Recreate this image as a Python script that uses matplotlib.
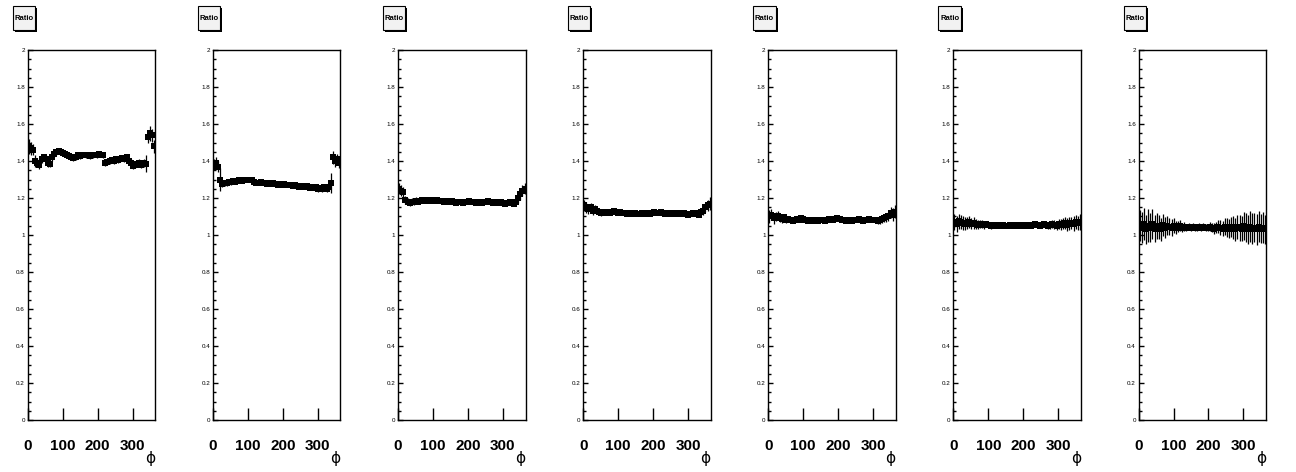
import numpy as np
import matplotlib
matplotlib.use('Agg')
import matplotlib.pyplot as plt
from matplotlib.patches import Rectangle
from matplotlib.ticker import MultipleLocator

plt.rcParams['font.family'] = ['Liberation Sans', 'DejaVu Sans']

# phi binning (60 bins)
phi_edges = np.linspace(0, 365, 61)
phi = 0.5 * (phi_edges[1:] + phi_edges[:-1])
half_bin = 0.5 * (phi_edges[1] - phi_edges[0])

ratio_1 = [1.48, 1.47, 1.46, 1.40, 1.39, 1.38, 1.41, 1.42, 1.41, 1.39,
           1.385, 1.42, 1.44, 1.45, 1.455, 1.45, 1.445, 1.44, 1.43, 1.425,
           1.42, 1.415, 1.42, 1.43, 1.425, 1.43, 1.435, 1.43, 1.43, 1.425,
           1.43, 1.435, 1.43, 1.44, 1.435, 1.43, 1.39, 1.395, 1.40, 1.405,
           1.40, 1.41, 1.405, 1.41, 1.415, 1.41, 1.42, 1.40, 1.39, 1.375,
           1.38, 1.385, 1.39, 1.38, 1.39, 1.385, 1.53, 1.55, 1.54, 1.48]
err_1 = [0.04, 0.035, 0.03, 0.03, 0.025, 0.025, 0.02, 0.02, 0.02, 0.02,
         0.02, 0.02, 0.02, 0.015, 0.015, 0.015, 0.015, 0.015, 0.015, 0.015,
         0.015, 0.015, 0.015, 0.015, 0.015, 0.015, 0.015, 0.015, 0.015, 0.015,
         0.015, 0.015, 0.015, 0.015, 0.015, 0.015, 0.015, 0.015, 0.015, 0.015,
         0.015, 0.015, 0.015, 0.015, 0.015, 0.015, 0.015, 0.015, 0.02, 0.02,
         0.02, 0.02, 0.02, 0.02, 0.02, 0.045, 0.035, 0.04, 0.035, 0.035]

ratio_2 = [1.38, 1.39, 1.37, 1.30, 1.275, 1.28, 1.28, 1.285, 1.285, 1.29,
           1.285, 1.29, 1.295, 1.29, 1.30, 1.295, 1.30, 1.30, 1.295, 1.285,
           1.28, 1.28, 1.285, 1.28, 1.28, 1.275, 1.28, 1.275, 1.28, 1.275,
           1.27, 1.275, 1.27, 1.275, 1.27, 1.27, 1.27, 1.265, 1.27, 1.265,
           1.26, 1.265, 1.26, 1.26, 1.265, 1.255, 1.26, 1.255, 1.26, 1.25,
           1.255, 1.25, 1.26, 1.25, 1.26, 1.28, 1.42, 1.40, 1.41, 1.39]
err_2 = [0.03, 0.03, 0.03, 0.06, 0.015, 0.015, 0.015, 0.015, 0.015, 0.01,
         0.01, 0.01, 0.01, 0.01, 0.01, 0.01, 0.01, 0.01, 0.01, 0.01,
         0.01, 0.01, 0.01, 0.01, 0.01, 0.01, 0.01, 0.01, 0.01, 0.01,
         0.01, 0.01, 0.01, 0.01, 0.01, 0.01, 0.01, 0.01, 0.01, 0.01,
         0.01, 0.01, 0.01, 0.01, 0.01, 0.01, 0.01, 0.01, 0.015, 0.015,
         0.015, 0.015, 0.015, 0.015, 0.015, 0.055, 0.035, 0.03, 0.03, 0.03]

ratio_3 = [1.25, 1.24, 1.23, 1.19, 1.18, 1.175, 1.18, 1.18, 1.185, 1.18,
           1.185, 1.19, 1.185, 1.19, 1.185, 1.19, 1.19, 1.185, 1.19, 1.185,
           1.185, 1.18, 1.185, 1.18, 1.18, 1.185, 1.18, 1.175, 1.18, 1.18,
           1.175, 1.18, 1.18, 1.185, 1.18, 1.18, 1.175, 1.18, 1.18, 1.175,
           1.18, 1.18, 1.185, 1.18, 1.175, 1.18, 1.18, 1.175, 1.18, 1.175,
           1.17, 1.175, 1.18, 1.175, 1.17, 1.18, 1.20, 1.22, 1.24, 1.25]
err_3 = [0.03, 0.03, 0.03, 0.02, 0.02, 0.02, 0.02, 0.02, 0.02, 0.01,
         0.01, 0.01, 0.01, 0.01, 0.01, 0.01, 0.01, 0.01, 0.01, 0.01,
         0.01, 0.01, 0.01, 0.01, 0.01, 0.01, 0.01, 0.01, 0.01, 0.01,
         0.01, 0.01, 0.01, 0.01, 0.01, 0.01, 0.01, 0.01, 0.01, 0.01,
         0.01, 0.01, 0.01, 0.01, 0.01, 0.01, 0.01, 0.01, 0.01, 0.01,
         0.015, 0.015, 0.015, 0.015, 0.015, 0.015, 0.025, 0.03, 0.03, 0.03]

ratio_4 = [1.16, 1.15, 1.14, 1.15, 1.13, 1.14, 1.13, 1.125, 1.12, 1.125,
           1.12, 1.125, 1.12, 1.125, 1.13, 1.125, 1.12, 1.125, 1.12, 1.12,
           1.115, 1.12, 1.12, 1.115, 1.12, 1.115, 1.115, 1.12, 1.115, 1.12,
           1.12, 1.115, 1.12, 1.125, 1.12, 1.12, 1.125, 1.12, 1.115, 1.12,
           1.12, 1.115, 1.12, 1.115, 1.12, 1.115, 1.115, 1.12, 1.115, 1.11,
           1.115, 1.12, 1.115, 1.12, 1.11, 1.125, 1.13, 1.15, 1.16, 1.17]
err_4 = [0.03, 0.03, 0.025, 0.025, 0.02, 0.02, 0.015, 0.015, 0.015, 0.015,
         0.008, 0.008, 0.008, 0.008, 0.008, 0.008, 0.008, 0.008, 0.008, 0.008,
         0.008, 0.008, 0.008, 0.008, 0.008, 0.008, 0.008, 0.008, 0.008, 0.008,
         0.008, 0.008, 0.008, 0.008, 0.008, 0.008, 0.008, 0.008, 0.008, 0.008,
         0.008, 0.008, 0.008, 0.008, 0.008, 0.008, 0.008, 0.008, 0.008, 0.008,
         0.008, 0.015, 0.015, 0.015, 0.015, 0.015, 0.02, 0.025, 0.03, 0.035]

ratio_5 = [1.10, 1.11, 1.09, 1.10, 1.105, 1.09, 1.085, 1.095, 1.08, 1.085,
           1.08, 1.075, 1.08, 1.085, 1.08, 1.09, 1.085, 1.08, 1.075, 1.08,
           1.08, 1.075, 1.08, 1.075, 1.08, 1.08, 1.075, 1.08, 1.085, 1.08,
           1.08, 1.085, 1.09, 1.085, 1.08, 1.08, 1.075, 1.08, 1.08, 1.075,
           1.08, 1.08, 1.085, 1.08, 1.075, 1.08, 1.08, 1.085, 1.08, 1.08,
           1.08, 1.075, 1.08, 1.085, 1.09, 1.095, 1.10, 1.12, 1.11, 1.125]
err_5 = [0.035, 0.03, 0.03, 0.025, 0.025, 0.02, 0.02, 0.02, 0.015, 0.01,
         0.01, 0.01, 0.01, 0.01, 0.01, 0.01, 0.01, 0.01, 0.01, 0.01,
         0.01, 0.01, 0.01, 0.01, 0.01, 0.01, 0.01, 0.01, 0.01, 0.01,
         0.01, 0.01, 0.01, 0.01, 0.01, 0.01, 0.01, 0.01, 0.01, 0.01,
         0.01, 0.01, 0.01, 0.01, 0.01, 0.01, 0.01, 0.01, 0.01, 0.01,
         0.015, 0.015, 0.02, 0.02, 0.02, 0.025, 0.025, 0.03, 0.035, 0.035]

ratio_6 = [1.07, 1.06, 1.075, 1.07, 1.065, 1.06, 1.065, 1.07, 1.06, 1.065,
           1.06, 1.055, 1.06, 1.06, 1.055, 1.06, 1.055, 1.05, 1.055, 1.05,
           1.055, 1.055, 1.05, 1.055, 1.05, 1.05, 1.055, 1.05, 1.055, 1.05,
           1.05, 1.055, 1.05, 1.055, 1.05, 1.055, 1.05, 1.055, 1.06, 1.055,
           1.05, 1.055, 1.06, 1.055, 1.05, 1.055, 1.06, 1.055, 1.05, 1.06,
           1.055, 1.06, 1.065, 1.055, 1.06, 1.065, 1.06, 1.07, 1.065, 1.07]
err_6 = [0.045, 0.045, 0.04, 0.04, 0.04, 0.035, 0.035, 0.03, 0.03, 0.03,
         0.025, 0.025, 0.02, 0.02, 0.02, 0.015, 0.015, 0.015, 0.012, 0.012,
         0.01, 0.01, 0.01, 0.01, 0.01, 0.01, 0.01, 0.01, 0.01, 0.01,
         0.01, 0.01, 0.01, 0.01, 0.01, 0.01, 0.01, 0.01, 0.01, 0.01,
         0.012, 0.015, 0.015, 0.015, 0.02, 0.02, 0.02, 0.025, 0.025, 0.025,
         0.03, 0.03, 0.03, 0.035, 0.035, 0.035, 0.04, 0.04, 0.04, 0.045]

ratio_7 = [1.05, 1.04, 1.06, 1.03, 1.05, 1.04, 1.06, 1.035, 1.05, 1.045,
           1.03, 1.055, 1.04, 1.05, 1.045, 1.04, 1.05, 1.04, 1.045, 1.05,
           1.04, 1.045, 1.04, 1.045, 1.04, 1.045, 1.04, 1.04, 1.045, 1.04,
           1.045, 1.04, 1.04, 1.045, 1.04, 1.035, 1.04, 1.045, 1.04, 1.035,
           1.045, 1.04, 1.035, 1.045, 1.04, 1.03, 1.045, 1.04, 1.035, 1.05,
           1.04, 1.03, 1.045, 1.035, 1.04, 1.03, 1.045, 1.035, 1.04, 1.03]
err_7 = [0.085, 0.085, 0.085, 0.08, 0.09, 0.08, 0.08, 0.075, 0.07, 0.065,
         0.06, 0.06, 0.055, 0.05, 0.045, 0.045, 0.04, 0.035, 0.03, 0.03,
         0.025, 0.025, 0.02, 0.02, 0.02, 0.02, 0.02, 0.02, 0.02, 0.02,
         0.02, 0.02, 0.02, 0.025, 0.025, 0.03, 0.03, 0.035, 0.04, 0.04,
         0.045, 0.05, 0.05, 0.055, 0.06, 0.06, 0.065, 0.07, 0.07, 0.075,
         0.08, 0.08, 0.085, 0.085, 0.08, 0.085, 0.085, 0.08, 0.085, 0.08]

ratios = [ratio_1, ratio_2, ratio_3, ratio_4, ratio_5, ratio_6, ratio_7]
errors = [err_1, err_2, err_3, err_4, err_5, err_6, err_7]

x_ticks = [0, 100, 200, 300]
y_ticks = [0, 0.2, 0.4, 0.6, 0.8, 1, 1.2, 1.4, 1.6, 1.8, 2]
y_ticklabels = ['0', '0.2', '0.4', '0.6', '0.8', '1', '1.2', '1.4', '1.6', '1.8', '2']

W, H = 1296, 472
fig = plt.figure(figsize=(W / 100, H / 100), dpi=100)
fig.patch.set_facecolor('white')

cell = W / 7.0
for k in range(7):
    x0 = cell * k
    ax = fig.add_axes([(x0 + 27.7) / W, 1 - 420 / H, 127.6 / W, 370 / H])
    ax.errorbar(phi, ratios[k], yerr=errors[k], xerr=half_bin,
                fmt='s', color='black', ms=4, mew=0, elinewidth=0.9,
                capsize=2.6, capthick=1.0)
    ax.set_xlim(0, 365)
    ax.set_ylim(0, 2)
    ax.set_xticks(x_ticks)
    ax.set_xticklabels([str(t) for t in x_ticks], fontsize=11, fontweight='bold')
    ax.set_yticks(y_ticks)
    ax.set_yticklabels(y_ticklabels, fontsize=4.5)
    ax.yaxis.set_minor_locator(MultipleLocator(0.05))
    ax.tick_params(axis='x', direction='in', length=9, width=1, pad=14)
    ax.tick_params(axis='y', which='major', direction='in', length=3.5, width=1, pad=2)
    ax.tick_params(axis='y', which='minor', direction='in', length=1.8, width=1)
    for s in ax.spines.values():
        s.set_linewidth(1)

    fig.text((x0 + 150) / W, 1 - 458 / H, '\u03d5', fontsize=11,
             family=['DejaVu Sans'], ha='center', va='center')

    # title pave with shadow
    bx, by, bw, bh = x0 + 12.7, 6, 22.3, 24
    fig.patches.append(Rectangle(((bx + 2) / W, 1 - (by + bh + 2) / H), bw / W, bh / H,
                                 transform=fig.transFigure, facecolor='black',
                                 edgecolor='black', lw=0))
    fig.patches.append(Rectangle((bx / W, 1 - (by + bh) / H), bw / W, bh / H,
                                 transform=fig.transFigure, facecolor='#f2f2f2',
                                 edgecolor='black', lw=0.8))
    fig.text((bx + bw / 2) / W, 1 - (by + bh / 2) / H, 'Ratio', fontsize=5.5,
             fontweight='bold', ha='center', va='center')

fig.savefig('out.png', dpi=100)
